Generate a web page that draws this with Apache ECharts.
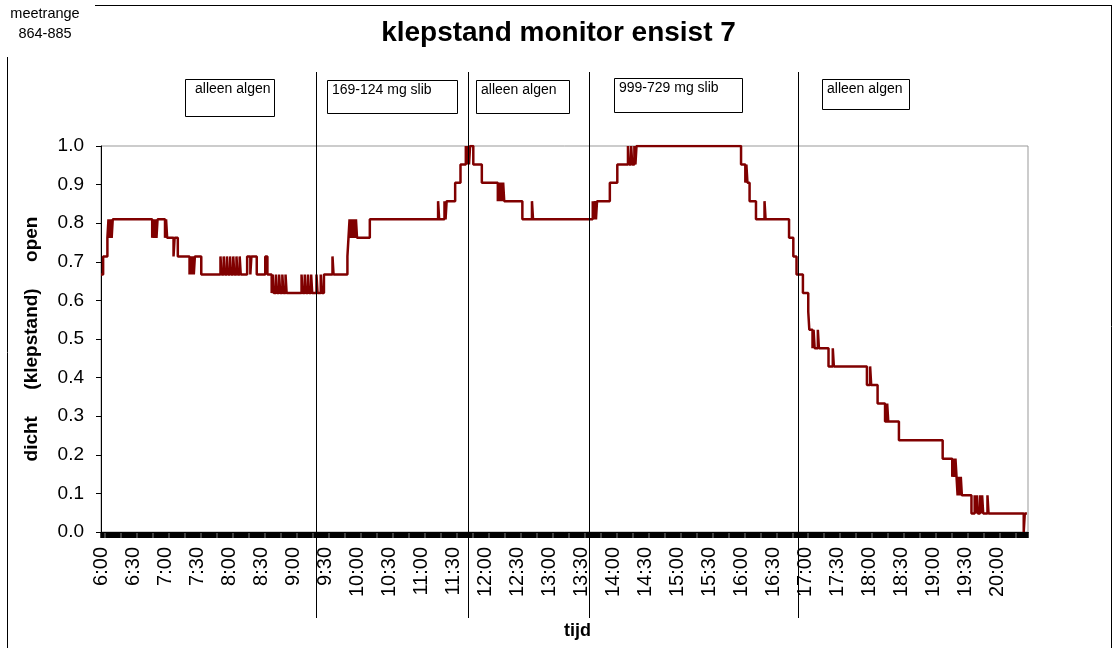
<!DOCTYPE html>
<html>
<head>
<meta charset="utf-8">
<script src="https://cdn.jsdelivr.net/npm/echarts@6/dist/echarts.min.js"></script>
<style>
  html, body { margin: 0; padding: 0; background: #fff; }
  #chart { width: 1117px; height: 648px; }
</style>
</head>
<body>
<div id="chart"></div>
<script>
// klepstand (fraction open), one entry per change of position; value holds until the next time
var times = ['6:00','6:02','6:06','6:07','6:08','6:09','6:10','6:11','6:48','6:49','6:50','6:51','6:52','6:53',
  '7:00','7:01','7:02','7:08','7:09','7:12','7:23','7:24','7:25','7:26','7:27','7:28','7:34',
  '7:52','7:53','7:55','7:56','7:58','7:59','8:01','8:02','8:04','8:05','8:07','8:08','8:10','8:11',
  '8:17','8:20','8:21','8:26','8:34','8:36','8:40','8:41','8:42','8:44','8:45','8:47','8:48','8:50','8:51','8:53','8:54',
  '9:08','9:09','9:11','9:12','9:14','9:15','9:17','9:18','9:22','9:23','9:26','9:27','9:29','9:37','9:38',
  '9:51','9:52','9:53','9:54','9:55','9:56','9:57','9:58','9:59','10:00','10:12',
  '11:16','11:17','11:22','11:23','11:24','11:32','11:37','11:42','11:43','11:44','11:45','11:46','11:49','11:57',
  '12:12','12:13','12:14','12:15','12:16','12:17','12:18','12:35','12:44','12:45',
  '13:41','13:42','13:43','13:44','13:45','13:57','14:04','14:14','14:15','14:17','14:18','14:20','14:21','14:22',
  '16:00','16:04','16:05','16:06','16:08','16:14','16:22','16:23','16:45','16:49','16:52','16:58',
  '17:03','17:04','17:07','17:08','17:09','17:12','17:13','17:22','17:26','17:27','17:58',
  '18:01','18:02','18:08','18:15','18:17','18:18','18:28',
  '19:09','19:18','19:19','19:20','19:21','19:22','19:23','19:24','19:25','19:26','19:27','19:36',
  '19:39','19:40','19:41','19:42','19:44','19:45','19:46','19:47','19:51','19:52','20:25','20:26','20:28'];
var klepstand = [0.667,0.714,0.762,0.810,0.762,0.810,0.762,0.810,0.762,0.810,0.762,0.810,0.762,0.810,
  0.762,0.810,0.762,0.714,0.762,0.714,0.667,0.714,0.667,0.714,0.667,0.714,0.667,
  0.714,0.667,0.714,0.667,0.714,0.667,0.714,0.667,0.714,0.667,0.714,0.667,0.714,0.667,
  0.714,0.667,0.714,0.667,0.714,0.667,0.619,0.667,0.619,0.667,0.619,0.667,0.619,0.667,0.619,0.667,0.619,
  0.667,0.619,0.667,0.619,0.667,0.619,0.667,0.619,0.667,0.619,0.667,0.619,0.667,0.714,0.667,
  0.714,0.762,0.810,0.762,0.810,0.762,0.810,0.762,0.810,0.762,0.810,
  0.857,0.810,0.857,0.810,0.857,0.905,0.952,1.000,0.952,1.000,0.952,1.000,0.952,0.905,
  0.857,0.905,0.857,0.905,0.857,0.905,0.857,0.810,0.857,0.810,
  0.857,0.810,0.857,0.810,0.857,0.905,0.952,1.000,0.952,1.000,0.952,1.000,0.952,1.000,
  0.952,0.905,0.952,0.905,0.857,0.810,0.857,0.810,0.762,0.714,0.667,0.619,
  0.571,0.524,0.476,0.524,0.476,0.524,0.476,0.429,0.476,0.429,0.381,
  0.429,0.381,0.333,0.286,0.333,0.286,0.238,
  0.190,0.143,0.190,0.143,0.190,0.143,0.095,0.143,0.095,0.143,0.095,0.048,
  0.095,0.048,0.095,0.048,0.095,0.048,0.095,0.048,0.095,0.048,0.000,0.048,0.048];

// moments where the feed was changed, with the text box placed above each period
var markTimes = ['9:22', '11:44', '13:37', '16:53'];
var periodLabels = ['alleen algen', '169-124 mg slib', 'alleen algen', '999-729 mg slib', 'alleen algen'];
var boxes = [
  [185, 79, 89, 37, 10],
  [327, 80, 130, 33, 5],
  [476, 80, 93, 33, 5],
  [614, 78, 128, 34, 5],
  [822, 79, 87, 30, 5]
];

function toMin(s) {
  var p = s.split(':');
  return +p[0] * 60 + +p[1];
}
function fmtTime(v) {
  if (v % 30 !== 0) return '';
  var h = Math.floor(v / 60), m = v % 60;
  return h + ':' + (m < 10 ? '0' : '') + m;
}

var data = times.map(function (t, i) { return [toMin(t), klepstand[i]]; });

var chart = echarts.init(document.getElementById('chart'), null, { renderer: 'canvas' });
var font = 'Liberation Sans, Arial, sans-serif';

chart.setOption({
  animation: false,
  textStyle: { fontFamily: font },
  title: {
    text: 'klepstand monitor ensist 7',
    left: 'center',
    top: 14,
    textStyle: { fontSize: 28, fontWeight: 'bold', color: '#000', fontFamily: font }
  },
  grid: {
    left: 101, right: 89, top: 146, bottom: 116,
    show: true, borderColor: '#999', borderWidth: 1
  },
  xAxis: {
    type: 'value',
    min: 360,
    max: 1229,
    interval: 30,
    name: 'tijd',
    nameLocation: 'middle',
    nameGap: 90,
    nameTextStyle: { fontSize: 18, fontWeight: 'bold', color: '#000', padding: [0, 0, 0, 26] },
    axisLine: { lineStyle: { color: '#000', width: 1 } },
    axisTick: { show: true, length: 6, lineStyle: { color: '#000', width: 1.5 } },
    minorTick: { show: true, splitNumber: 30, length: 6, lineStyle: { color: '#000', width: 1.5 } },
    splitLine: { show: false },
    axisLabel: {
      rotate: 90, margin: 15, fontSize: 20, color: '#000', showMaxLabel: false,
      formatter: fmtTime
    }
  },
  yAxis: {
    type: 'value',
    min: 0,
    max: 1,
    interval: 0.1,
    name: 'dicht     (klepstand)     open',
    nameLocation: 'middle',
    nameGap: 60,
    nameTextStyle: { fontSize: 19, fontWeight: 'bold', color: '#000' },
    axisLine: { show: true, lineStyle: { color: '#000', width: 1 } },
    axisTick: { show: true, length: 5, lineStyle: { color: '#000' } },
    splitLine: { show: false },
    axisLabel: {
      fontSize: 19, color: '#000', margin: 17,
      formatter: function (v) { return v.toFixed(1); }
    }
  },
  series: [{
    type: 'line',
    step: 'end',
    data: data,
    showSymbol: false,
    lineStyle: { color: '#800000', width: 2.5 },
    itemStyle: { color: '#800000' }
  }]
});

// frame, period lines and text boxes
var g = [
  { type: 'line', shape: { x1: 95, y1: 5.5, x2: 1111, y2: 5.5 }, style: { stroke: '#000', lineWidth: 1 } },
  { type: 'line', shape: { x1: 7.5, y1: 57, x2: 7.5, y2: 648 }, style: { stroke: '#000', lineWidth: 1 } },
  { type: 'line', shape: { x1: 1111.5, y1: 5, x2: 1111.5, y2: 648 }, style: { stroke: '#000', lineWidth: 1 } },
  { type: 'text', x: 45, y: 6, style: { text: 'meetrange', fontSize: 14.5, fontFamily: font, fill: '#000', align: 'center' } },
  { type: 'text', x: 45, y: 26, style: { text: '864-885', fontSize: 14.5, fontFamily: font, fill: '#000', align: 'center' } }
];
markTimes.forEach(function (t) {
  var x = Math.round(chart.convertToPixel({ xAxisIndex: 0 }, toMin(t))) + 0.5;
  g.push({ type: 'line', z: 100, shape: { x1: x, y1: 72, x2: x, y2: 618 }, style: { stroke: '#000', lineWidth: 1 } });
});
boxes.forEach(function (b, i) {
  g.push({ type: 'rect', z: 101, shape: { x: b[0] + 0.5, y: b[1] + 0.5, width: b[2], height: b[3] }, style: { fill: '#fff', stroke: '#000', lineWidth: 1 } });
  g.push({ type: 'text', z: 102, x: b[0] + b[4], y: b[1] + 3, style: { text: periodLabels[i], fontSize: 14, fontFamily: font, fill: '#000' } });
});
chart.setOption({ graphic: g });
</script>
</body>
</html>
